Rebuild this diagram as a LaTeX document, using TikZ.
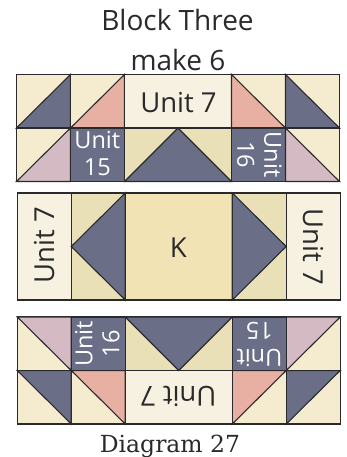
\documentclass[tikz,border=0pt]{standalone}
\usepackage{fontspec}
\setmainfont{Open Sans}
\newfontfamily\capfont{DejaVu Serif}
\definecolor{creamc}{HTML}{F5EBCF}
\definecolor{darkc}{HTML}{6A6F87}
\definecolor{pinkc}{HTML}{E8AFA3}
\definecolor{mauvec}{HTML}{D4BBC3}
\definecolor{tanc}{HTML}{E9E0B7}
\definecolor{palec}{HTML}{F6F1E1}
\definecolor{kc}{HTML}{F1E3B3}
\definecolor{inkc}{HTML}{2A2A2C}
\tikzset{
  x=1pt,y=1pt,
  seam/.style={draw=inkc,line width=1.1pt,line join=miter},
  big/.style={font=\fontsize{27.5}{28}\selectfont,text=inkc,inner sep=0pt,transform shape},
  small/.style={font=\fontsize{23.5}{27}\selectfont,text=white,inner sep=0pt,align=center,transform shape},
  title/.style={font=\fontsize{28}{28}\selectfont,text=inkc,inner sep=0pt,anchor=base},
}
\newcommand{\patch}[2]{\filldraw[seam,fill=#1] #2 -- cycle;}
\newcommand{\flankrow}[1]{%
  % top row
  \patch{creamc}{(-161.5,0) -- (-161.5,53.5) -- (-107.5,53.5) -- (-107.5,0)}
  \patch{darkc}{(-161.5,0) -- (-107.5,53.5) -- (-107.5,0)}
  \patch{creamc}{(-107.5,0) -- (-107.5,53.5) -- (-53.5,53.5) -- (-53.5,0)}
  \patch{pinkc}{(-107.5,0) -- (-53.5,53.5) -- (-53.5,0)}
  \patch{palec}{(-53.5,0) -- (-53.5,53.5) -- (53.5,53.5) -- (53.5,0)}
  \patch{creamc}{(53.5,0) -- (53.5,53.5) -- (107.5,53.5) -- (107.5,0)}
  \patch{pinkc}{(53.5,0) -- (53.5,53.5) -- (107.5,0)}
  \patch{creamc}{(107.5,0) -- (107.5,53.5) -- (161.5,53.5) -- (161.5,0)}
  \patch{darkc}{(107.5,0) -- (107.5,53.5) -- (161.5,0)}
  % bottom row
  \patch{creamc}{(-161.5,-53.5) -- (-161.5,0) -- (-107.5,0) -- (-107.5,-53.5)}
  \patch{mauvec}{(-161.5,-53.5) -- (-107.5,0) -- (-107.5,-53.5)}
  \patch{darkc}{(-107.5,-53.5) -- (-107.5,0) -- (-53.5,0) -- (-53.5,-53.5)}
  \patch{tanc}{(-53.5,-53.5) -- (-53.5,0) -- (53.5,0) -- (53.5,-53.5)}
  \patch{darkc}{(-53.5,-53.5) -- (0,0) -- (53.5,-53.5)}
  \patch{darkc}{(53.5,-53.5) -- (53.5,0) -- (107.5,0) -- (107.5,-53.5)}
  \patch{creamc}{(107.5,-53.5) -- (107.5,0) -- (161.5,0) -- (161.5,-53.5)}
  \patch{mauvec}{(107.5,-53.5) -- (107.5,0) -- (161.5,-53.5)}
  \node[big] (#1seven) at (0.5,25.7) {Unit 7};
  \node[small] (#1fifteen) at (-80.7,-25.5) {Unit\\15};
  \node[small,rotate=-90] (#1sixteen) at (81.5,-26.5) {Unit\\16};
}
\begin{document}
\begin{tikzpicture}
\useasboundingbox (0,0) rectangle (346,457);
\node[title] (head) at (177.5,426) {Block Three};
\node[title] (make) at (178,386.5) {make 6};
\begin{scope}[shift={(178,329)}]
  \flankrow{t}
\end{scope}
\begin{scope}[shift={(178.75,210.5)}]
  \patch{palec}{(-161.5,-53.5) -- (-161.5,53.5) -- (-107.5,53.5) -- (-107.5,-53.5)}
  \patch{tanc}{(-107.5,-53.5) -- (-107.5,53.5) -- (-53.5,53.5) -- (-53.5,-53.5)}
  \patch{darkc}{(-107.5,0) -- (-53.5,53.5) -- (-53.5,-53.5)}
  \patch{kc}{(-53.5,-53.5) -- (-53.5,53.5) -- (53.5,53.5) -- (53.5,-53.5)}
  \patch{tanc}{(53.5,-53.5) -- (53.5,53.5) -- (107.5,53.5) -- (107.5,-53.5)}
  \patch{darkc}{(107.5,0) -- (53.5,53.5) -- (53.5,-53.5)}
  \patch{palec}{(107.5,-53.5) -- (107.5,53.5) -- (161.5,53.5) -- (161.5,-53.5)}
  \node[big,rotate=90] (left) at (-134.7,1.5) {Unit 7};
  \node[big] (key) at (-0.5,-1) {K};
  \node[big,rotate=-90] (right) at (135,-0.5) {Unit 7};
\end{scope}
\begin{scope}[shift={(178.75,86.5)},rotate=180]
  \flankrow{b}
\end{scope}
\node[font=\capfont\fontsize{23.5}{24}\selectfont,text=inkc,inner sep=0pt,anchor=base] (cap) at (170,4.3) {Diagram 27};
\end{tikzpicture}
\end{document}
